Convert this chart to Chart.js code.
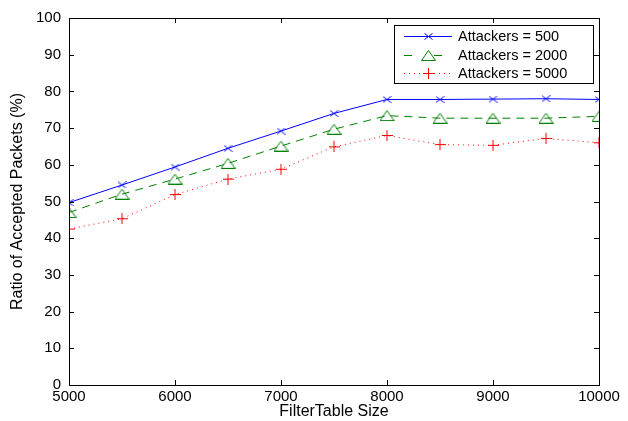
<!DOCTYPE html>
<html>
<head>
<meta charset="utf-8">
<script src="https://cdn.jsdelivr.net/npm/chart.js@4"></script>
<style>
html,body{margin:0;padding:0;background:#fff;}
#wrap{width:628px;height:421px;position:relative;}
</style>
</head>
<body>
<div id="wrap"><canvas id="c" width="628" height="421"></canvas></div>
<script>
const xValues = [5000, 5500, 6000, 6500, 7000, 7500, 8000, 8500, 9000, 9500, 10000];
const att500 = [49.7, 54.5, 59.4, 64.5, 69.2, 74.0, 77.8, 77.8, 77.9, 78.0, 77.8];
const att2000 = [47.0, 52.0, 56.1, 60.4, 65.1, 69.7, 73.4, 72.7, 72.7, 72.7, 73.2];
const att5000 = [42.5, 45.3, 51.9, 56.1, 58.8, 64.9, 68.0, 65.5, 65.3, 67.2, 66.0];
const seriesLabels = ['Attackers = 500', 'Attackers = 2000', 'Attackers = 5000'];
const xTicks = [5000, 6000, 7000, 8000, 9000, 10000];
const yTicks = [0, 10, 20, 30, 40, 50, 60, 70, 80, 90, 100];

const FONT = '"Liberation Sans", Arial, Helvetica, sans-serif';

function pts(vals){ return xValues.map((x,i)=>({x:x,y:vals[i]})); }

function makeMarker(w, h, color, drawFn){
  const c = document.createElement('canvas');
  c.width = w; c.height = h;
  const g = c.getContext('2d');
  g.strokeStyle = color; g.lineWidth = 1;
  g.beginPath(); drawFn(g, w, h); g.stroke();
  return c;
}
const mkX = makeMarker(9, 7, '#0000ff', (g,w,h)=>{ g.moveTo(0.5,0.5); g.lineTo(w-0.5,h-0.5); g.moveTo(w-0.5,0.5); g.lineTo(0.5,h-0.5); });
const mkTri = makeMarker(15, 11, '#008000', (g,w,h)=>{ g.moveTo(w/2,0.5); g.lineTo(w-0.5,h-0.5); g.lineTo(0.5,h-0.5); g.closePath(); });
const mkPlus = makeMarker(11, 11, '#ff0000', (g,w,h)=>{ g.moveTo(0,5.5); g.lineTo(w,5.5); g.moveTo(5.5,0); g.lineTo(5.5,h); });

const boxPlugin = {
  id:'boxTicks',
  afterDraw(chart){
    const ctx = chart.ctx, a = chart.chartArea;
    const xs = chart.scales.x, ys = chart.scales.y;
    ctx.save();
    ctx.strokeStyle = '#000';
    ctx.lineWidth = 1;
    ctx.strokeRect(Math.round(a.left)+0.5, Math.round(a.top)+0.5, Math.round(a.right-a.left), Math.round(a.bottom-a.top));
    ctx.beginPath();
    xTicks.forEach(v=>{
      const px = Math.round(xs.getPixelForValue(v))+0.5;
      ctx.moveTo(px, a.bottom); ctx.lineTo(px, a.bottom-5);
      ctx.moveTo(px, a.top); ctx.lineTo(px, a.top+5);
    });
    yTicks.forEach(v=>{
      const py = Math.round(ys.getPixelForValue(v))+0.5;
      ctx.moveTo(a.left, py); ctx.lineTo(a.left+5, py);
      ctx.moveTo(a.right, py); ctx.lineTo(a.right-5, py);
    });
    ctx.stroke();

    // legend
    const lx = 394, ly = 25, lw = 199, lh = 58;
    ctx.fillStyle = '#fff';
    ctx.fillRect(lx, ly, lw, lh);
    ctx.strokeStyle = '#000';
    ctx.strokeRect(lx+0.5, ly+0.5, lw, lh);
    ctx.font = '14.5px ' + FONT;
    ctx.textBaseline = 'middle';
    const rows = [36, 54.5, 72.5];
    chart.data.datasets.forEach((ds,i)=>{
      const cy = Math.round(rows[i]);
      ctx.save();
      ctx.strokeStyle = ds.borderColor;
      ctx.lineWidth = 1;
      ctx.setLineDash(ds.borderDash || []);
      ctx.beginPath();
      if (i === 1) {
        ctx.setLineDash([]);
        ctx.moveTo(lx+10, cy+0.5); ctx.lineTo(lx+18, cy+0.5);
        ctx.moveTo(lx+40, cy+0.5); ctx.lineTo(lx+48, cy+0.5);
      } else {
        ctx.moveTo(lx+10, cy+0.5); ctx.lineTo(lx+58, cy+0.5);
      }
      ctx.stroke();
      const img = ds.pointStyle;
      ctx.drawImage(img, Math.round(lx+34 - img.width/2), Math.round(cy+0.5 - img.height/2));
      ctx.restore();
      ctx.fillStyle = '#000';
      ctx.textAlign = 'left';
      ctx.fillText(ds.label, lx+64, cy+1);
    });
    ctx.restore();
  }
};

new Chart(document.getElementById('c'), {
  type:'line',
  data:{
    datasets:[
      {label:seriesLabels[0], data:pts(att500), borderColor:'#0000ff', backgroundColor:'rgba(0,0,0,0)', borderWidth:1,
       pointStyle:mkX, pointRadius:4, tension:0},
      {label:seriesLabels[1], data:pts(att2000), borderColor:'#008000', backgroundColor:'rgba(0,0,0,0)', borderWidth:1, borderDash:[8,6],
       pointStyle:mkTri, pointRadius:6, tension:0},
      {label:seriesLabels[2], data:pts(att5000), borderColor:'#ff0000', backgroundColor:'rgba(0,0,0,0)', borderWidth:1, borderDash:[1,4],
       pointStyle:mkPlus, pointRadius:5, tension:0}
    ]
  },
  options:{
    responsive:false,
    animation:false,
    devicePixelRatio:1,
    layout:{padding:{top:18, right:29, left:0, bottom:0}},
    plugins:{legend:{display:false}, tooltip:{enabled:false}},
    scales:{
      x:{type:'linear', min:5000, max:10000,
        afterBuildTicks(s){ s.ticks = xTicks.map(v=>({value:v})); },
        afterFit(s){ s.height = 36; },
        grid:{display:false, drawTicks:false}, border:{display:false},
        ticks:{color:'#000', font:{family:FONT, size:15}, padding:3, maxRotation:0, autoSkip:false, callback:v=>String(v)},
        title:{display:true, text:'FilterTable Size', color:'#000', font:{family:FONT, size:16}, padding:{top:0,bottom:0}}
      },
      y:{type:'linear', min:0, max:100,
        afterBuildTicks(s){ s.ticks = yTicks.map(v=>({value:v})); },
        afterFit(s){ s.width = 69; },
        grid:{display:false, drawTicks:false}, border:{display:false},
        ticks:{color:'#000', font:{family:FONT, size:15}, padding:8, autoSkip:false, callback:v=>String(v)},
        title:{display:true, text:'Ratio of Accepted Packets (%)', color:'#000', font:{family:FONT, size:16}, padding:{top:8,bottom:4}}
      }
    }
  },
  plugins:[boxPlugin]
});
</script>
</body>
</html>
